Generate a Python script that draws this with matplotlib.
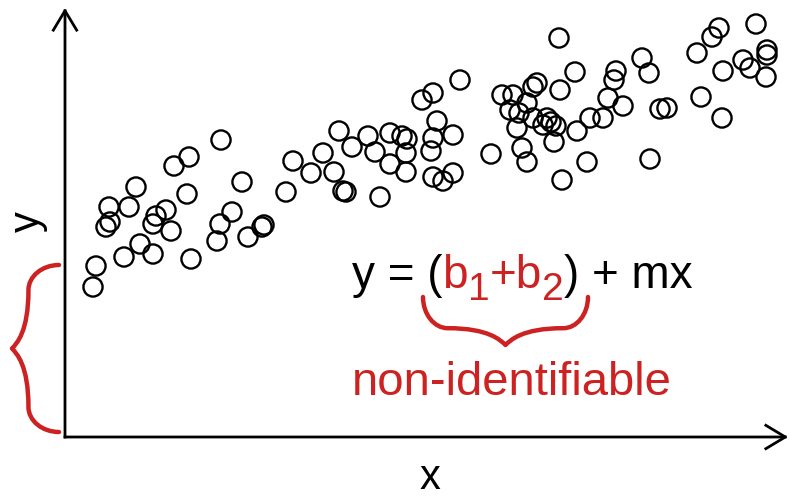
import numpy as np
import matplotlib.pyplot as plt
from matplotlib.path import Path
from matplotlib.patches import PathPatch, FancyArrowPatch

plt.rcParams['font.family'] = ['Liberation Sans', 'DejaVu Sans']

RED = '#cc2222'

# points (arbitrary units, origin at the axes corner)
x = [15.6, 12.4, 10.9, 7.1, 17.7, 22.1, 4.4, 6.4, 4.5, 4.1, 12.2, 10.1, 9.1, 8.8,
     10.6, 16.7, 15.5, 15.2, 19.9, 19.7, 18.3, 7.5, 8.8, 5.9, 12.6, 3.1, 2.8,
     39.5, 36.8, 35.7, 37.2, 27.4, 30.3, 32.5, 33.7, 34.2, 36.8, 38.8, 28.7, 31.0,
     34.1, 36.6, 25.8, 22.8, 24.6, 26.9, 32.5, 34.1, 36.8, 37.8, 38.8, 27.8,
     28.1, 31.5,
     49.4, 69.1, 65.4, 64.7, 63.2, 57.7, 58.4, 51.0, 55.1, 54.9, 47.2, 46.8, 49.5,
     43.7, 44.8, 46.2, 44.5, 45.4, 45.2, 46.8, 48.2, 48.6, 49.1, 47.8, 54.3, 55.8,
     52.5, 53.8, 51.2, 48.9, 45.7, 46.2, 42.6, 52.2, 49.7, 58.5, 59.5, 60.2, 63.6,
     65.7, 65.8, 67.8, 68.5, 70.2, 70.2, 70.1]
y = [29.7, 28.0, 27.1, 25.0, 25.5, 24.5, 23.0, 23.0, 21.5, 21.0, 24.3, 22.7, 22.1, 21.3,
     20.6, 22.5, 21.3, 19.6, 21.2, 21.0, 20.0, 19.3, 18.3, 18.0, 17.8, 17.1, 15.0,
     35.7, 34.4, 33.7, 31.6, 30.6, 30.1, 30.4, 30.1, 29.8, 29.9, 30.2, 29.0, 28.5,
     28.4, 28.6, 28.4, 27.6, 26.4, 26.5, 27.3, 26.5, 26.0, 25.6, 26.4, 24.6,
     24.5, 24.0,
     39.9, 41.3, 40.9, 40.0, 38.4, 37.9, 36.4, 36.5, 36.6, 35.7, 35.4, 35.0, 34.7,
     34.2, 34.2, 33.4, 32.7, 32.4, 30.9, 31.9, 31.9, 31.5, 31.1, 31.2, 33.9, 33.1,
     31.9, 31.9, 30.6, 29.5, 28.9, 27.5, 28.3, 27.5, 25.7, 27.8, 32.8, 32.9, 34.0,
     31.9, 36.6, 37.7, 36.9, 38.7, 38.2, 36.0]


def brace(ax, start, end, depth, color, lw):
    # curly brace between start and end, tip pushed out by `depth`
    start, end = np.array(start, float), np.array(end, float)
    L = np.linalg.norm(end - start)
    u = (end - start) / L
    n = np.array([-u[1], u[0]])
    if depth < 0:
        n, depth = -n, -depth
    D = depth
    s1, dsh = 0.15 * L, 0.65 * D

    def half(flip):
        pts = [(0, dsh * 0.55), (s1 * 0.45, dsh), (s1, dsh),
               (0.40 * L, dsh), (0.47 * L, 0.9 * D), (0.5 * L, D)]
        if flip:
            pts = [(L - s, d) for s, d in pts]
        return pts

    local = [(0, 0)] + half(False)
    right = [(L, 0)] + half(True)
    local += right[::-1][1:]
    verts = [start + s * u + d * n for s, d in local]
    codes = [Path.MOVETO] + [Path.CURVE4] * (len(verts) - 1)
    ax.add_patch(PathPatch(Path(verts, codes), fill=False, edgecolor=color,
                           lw=lw, capstyle='round', joinstyle='round'))


fig = plt.figure(figsize=(7.9, 4.99), dpi=100)
ax = fig.add_axes([0, 0, 1, 1])
ax.set_xlim(-6.5, 72.5)
ax.set_ylim(-6.2, 43.7)
ax.axis('off')

# axes with open arrow heads
for tip in [(0, 42.9), (72.3, 0)]:
    ax.add_patch(FancyArrowPatch((0, 0), tip, arrowstyle='->,head_length=0.7,head_width=0.42',
                                 mutation_scale=20, lw=2, color='black',
                                 shrinkA=0, shrinkB=0, capstyle='projecting'))

ax.scatter(x, y, s=190, facecolors='none', edgecolors='black', linewidths=1.7, zorder=3)

ax.text(36.5, -4.1, 'x', fontsize=30, ha='center', va='center')
ax.text(-3.7, 21.5, 'y', fontsize=30, ha='center', va='center', rotation=90)

# equation, pieces chained left to right
fs = 33
t = ax.text(28.7, 14.9, 'y = (', fontsize=fs, va='baseline')
for s, col, dy, size in [('b', RED, 0, fs), ('1', RED, -1.2, 28), ('+b', RED, 0, fs),
                         ('2', RED, -1.2, 28), (') + mx', 'black', 0, fs)]:
    t = ax.annotate(s, xy=(1, 14.9 + dy), xycoords=(t, 'data'), va='baseline',
                    ha='left', fontsize=size, color=col)

ax.text(28.7, 4.2, 'non-identifiable', fontsize=34, color=RED, va='baseline')

brace(ax, (-0.6, 17.2), (-0.6, 0.5), -4.7, RED, 3.2)
brace(ax, (35.8, 14.0), (52.3, 14.0), -4.8, RED, 3.2)

fig.savefig('out.png', dpi=100)
